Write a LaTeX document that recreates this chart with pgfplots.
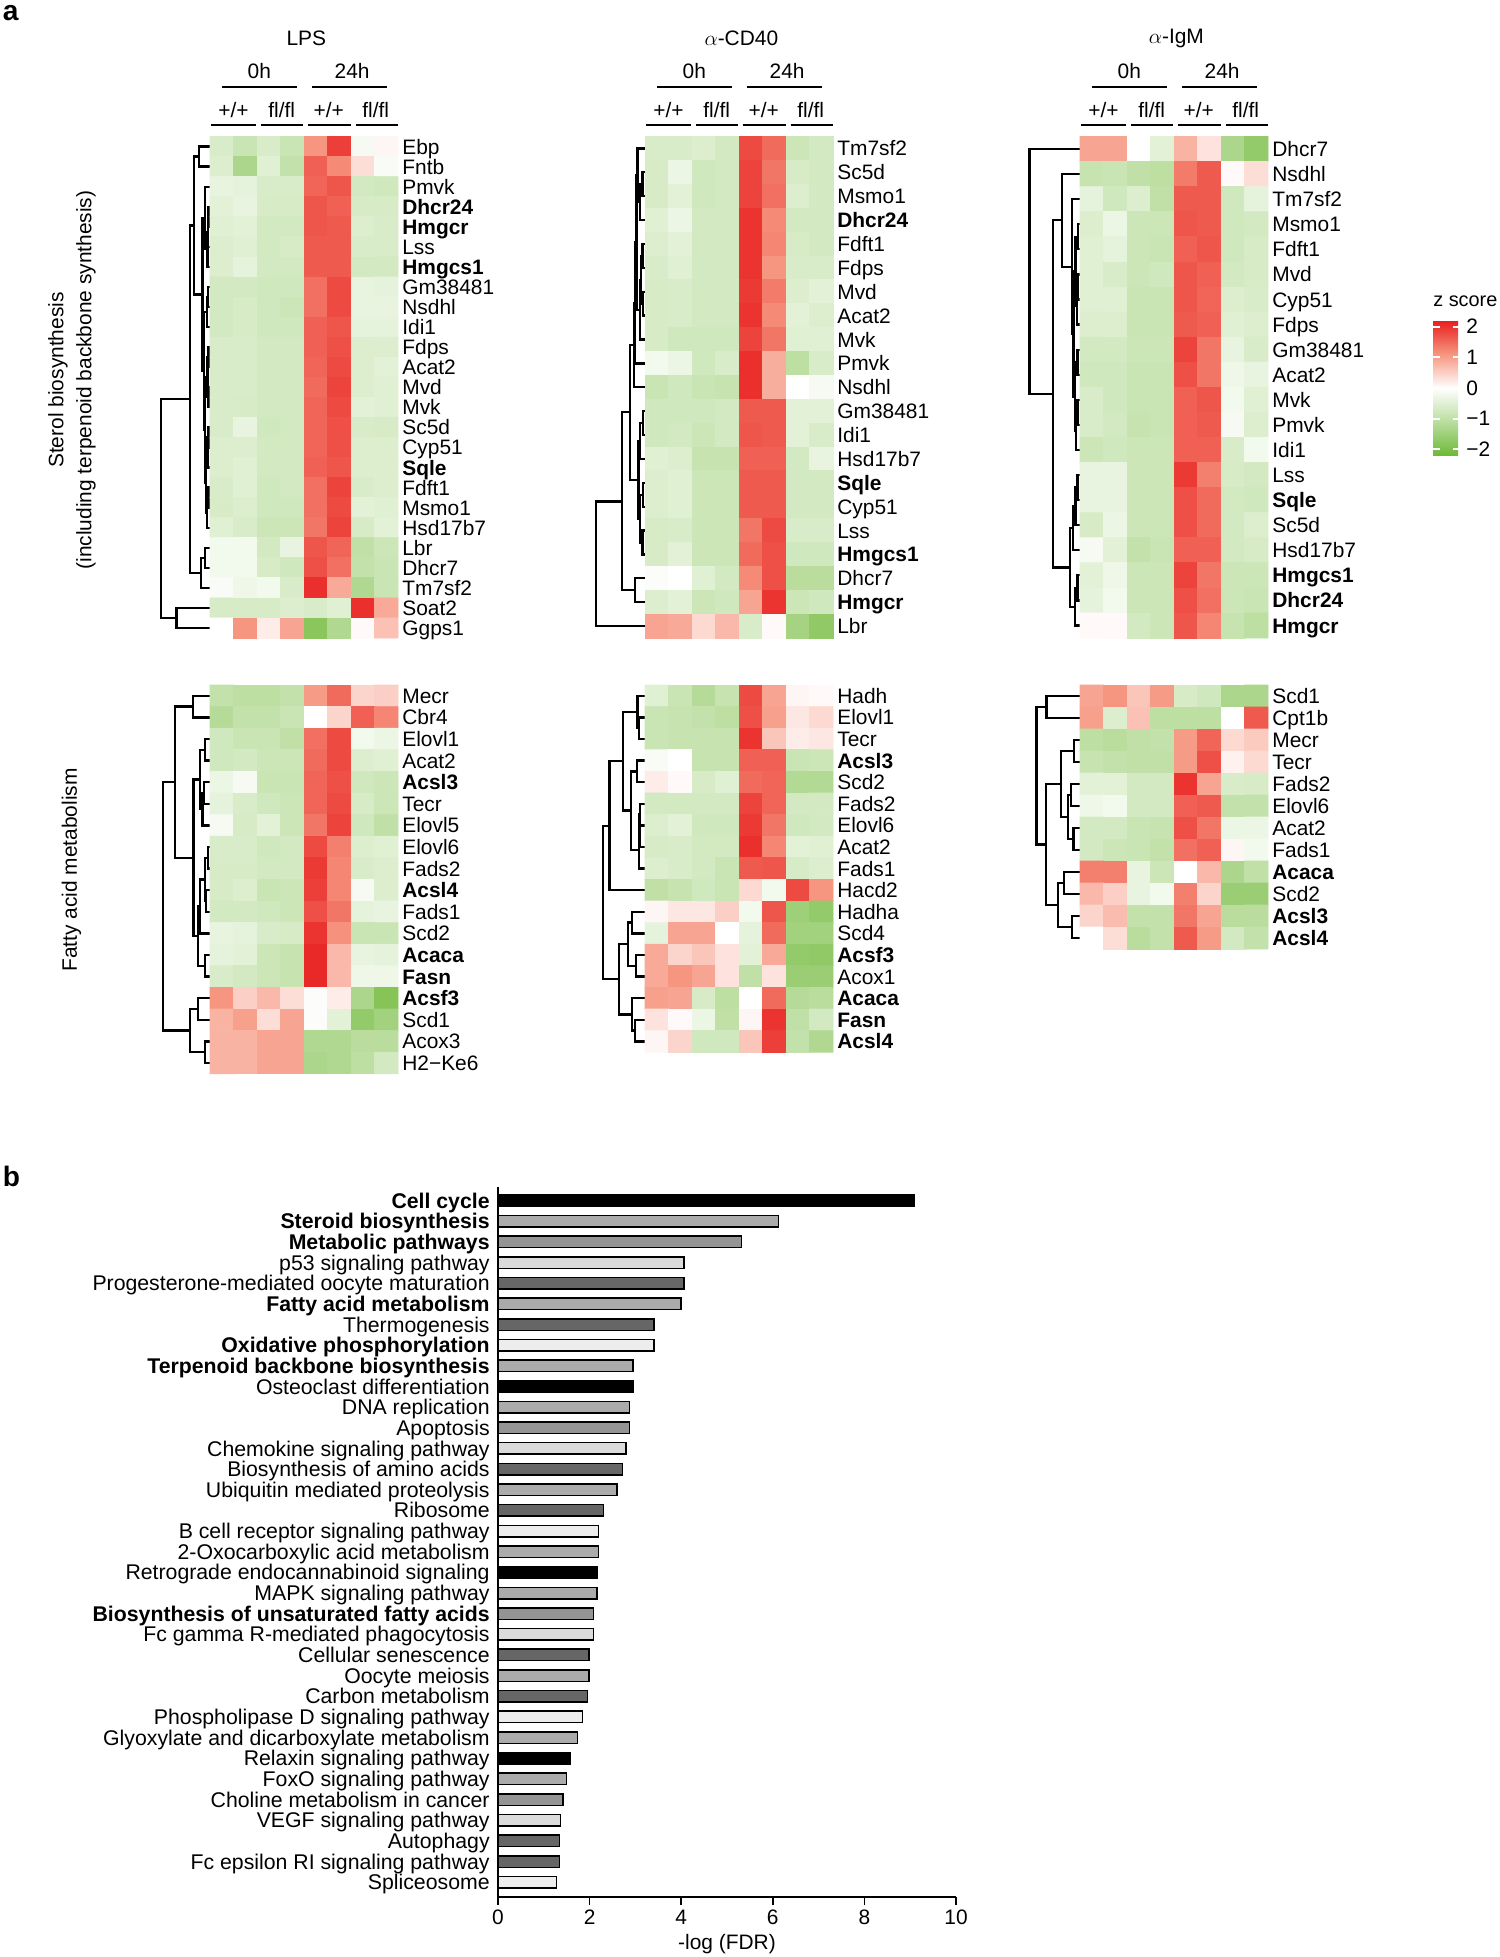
\documentclass[border=0pt]{standalone}
\usepackage{fontspec}
\setmainfont{Liberation Sans}
\usepackage{pgfplots}
\pgfplotsset{compat=1.18}

% colour scale of the z scores
\pgfplotsset{colormap={zs}{rgb255(0cm)=(110,185,55); rgb255(1cm)=(186,221,158); rgb255(2cm)=(255,255,255); rgb255(3cm)=(246,150,128); rgb255(4cm)=(232,30,30)}}

\pgfplotsset{
  hmap/.style={anchor=north west, scale only axis, width=37.6mm,
    xmin=-0.5, xmax=7.5, ymin=-0.5, y dir=reverse, clip=false,
    axis line style={draw=none}, xtick=\empty, major tick length=0pt,
    tick style={draw=none}, yticklabel pos=right,
    yticklabel style={anchor=base west, inner sep=0pt, xshift=0.8mm, yshift=-0.36em},
    colormap name=zs, point meta min=-2.2, point meta max=2.2},
  zcells/.style={matrix plot*, mesh/cols=8, point meta=explicit},
  dendro/.style={sharp plot, black, line width=0.45mm, no marks, fill=none,
    scatter=false, point meta=none, mesh/check=false},
}
\tikzset{hl/.style={black, line width=0.4mm}}

% dendrogram bracket: h child1, y child1, h node, y child2, h child2
\newcommand{\dend}[5]{%
  \pgfmathsetmacro\xa{-0.5-\dw*#1}%
  \pgfmathsetmacro\xn{-0.5-\dw*#3}%
  \pgfmathsetmacro\xb{-0.5-\dw*#5}%
  \edef\tmp{\noexpand\addplot[dendro] coordinates {(\xa,#2) (\xn,#2) (\xn,#4) (\xb,#4)};}\tmp}
\newcommand{\hdr}[1]{%
  \node at ([yshift=19.56mm]axis cs:3.6,-0.5) {#1};
  \node at ([yshift=13.1mm]axis cs:1.6,-0.5) {0h};
  \node at ([yshift=13.1mm]axis cs:5.55,-0.5) {24h};
  \draw[hl] ([yshift=9.9mm]axis cs:0.0,-0.5) -- ([yshift=9.9mm]axis cs:3.2,-0.5);
  \draw[hl] ([yshift=9.9mm]axis cs:3.85,-0.5) -- ([yshift=9.9mm]axis cs:7.05,-0.5);
  \node at ([yshift=5.3mm]axis cs:0.5,-0.5) {+/+};
  \node at ([yshift=5.3mm]axis cs:2.55,-0.5) {fl/fl};
  \node at ([yshift=5.3mm]axis cs:4.55,-0.5) {+/+};
  \node at ([yshift=5.3mm]axis cs:6.55,-0.5) {fl/fl};
  \draw[hl] ([yshift=2.3mm]axis cs:-0.45,-0.5) -- ([yshift=2.3mm]axis cs:1.45,-0.5);
  \draw[hl] ([yshift=2.3mm]axis cs:1.65,-0.5) -- ([yshift=2.3mm]axis cs:3.45,-0.5);
  \draw[hl] ([yshift=2.3mm]axis cs:3.65,-0.5) -- ([yshift=2.3mm]axis cs:5.5,-0.5);
  \draw[hl] ([yshift=2.3mm]axis cs:5.7,-0.5) -- ([yshift=2.3mm]axis cs:7.5,-0.5);
}

\definecolor{gA}{gray}{0.67}
\definecolor{gB}{gray}{0.58}
\definecolor{gC}{gray}{0.86}
\definecolor{gD}{gray}{0.40}
\definecolor{gE}{gray}{0.93}

\begin{document}
\fontsize{11.9}{14}\selectfont
\begin{tikzpicture}
\useasboundingbox (0,0) rectangle (300mm,-391.4mm);

\node[anchor=north west, inner sep=0pt, font=\bfseries\fontsize{16}{18}\selectfont] at (0.5mm,-1mm) {a};
\node[anchor=north west, inner sep=0pt, font=\bfseries\fontsize{16}{18}\selectfont] at (0.5mm,-233.2mm) {b};

\node[rotate=90] at (11.6mm,-76mm) {Sterol biosynthesis};
\node[rotate=90] at (17.2mm,-76mm) {(including terpenoid backbone synthesis)};
\node[rotate=90] at (14.3mm,-174mm) {Fatty acid metabolism};

% ---------- b: pathways ----------
\begin{axis}[at={(99.6mm,-237.4mm)}, anchor=north west, scale only axis,
  width=91.6mm, height=142mm, xmin=0, xmax=10, ymin=-33.72, ymax=0.66,
  axis lines*=left, axis line style={line width=0.3mm},
  tick align=outside, major tick length=1.6mm,
  xtick={0,2,...,10}, xtick style={black, line width=0.3mm},
  /pgf/number format/assume math mode=true,
  xticklabel style={inner sep=0pt, yshift=-1mm},
  ytick={0,-1,...,-33}, ytick style={draw=none},
  yticklabel style={anchor=base east, inner sep=0pt, yshift=-0.36em, font=\fontsize{12.1}{14}\selectfont},
  yticklabels={\textbf{Cell cycle},\textbf{Steroid biosynthesis},\textbf{Metabolic pathways},p53 signaling pathway,Progesterone-mediated oocyte maturation,\textbf{Fatty acid metabolism},Thermogenesis,\textbf{Oxidative phosphorylation},\textbf{Terpenoid backbone biosynthesis},Osteoclast differentiation,DNA replication,Apoptosis,Chemokine signaling pathway,Biosynthesis of amino acids,Ubiquitin mediated proteolysis,Ribosome,B cell receptor signaling pathway,2-Oxocarboxylic acid metabolism,Retrograde endocannabinoid signaling,MAPK signaling pathway,\textbf{Biosynthesis of unsaturated fatty acids},Fc gamma R-mediated phagocytosis,Cellular senescence,Oocyte meiosis,Carbon metabolism,Phospholipase D signaling pathway,Glyoxylate and dicarboxylate metabolism,Relaxin signaling pathway,FoxO signaling pathway,Choline metabolism in cancer,VEGF signaling pathway,Autophagy,Fc epsilon RI signaling pathway,Spliceosome},
  xlabel={-log (FDR)},
  xlabel style={at={(axis description cs:0.5,0)}, anchor=center, yshift=-9.4mm},
  clip=false]
\addplot[xbar, bar width=2.3mm, bar shift=0pt, draw=black, line width=0.3mm, fill=black]
  coordinates {(9.08,0) (2.96,-9) (2.16,-18) (1.57,-27)};
\addplot[xbar, bar width=2.3mm, bar shift=0pt, draw=black, line width=0.3mm, fill=gA]
  coordinates {(6.12,-1) (4.00,-5) (2.95,-8) (2.87,-10) (2.60,-14) (2.19,-17) (2.16,-19) (1.99,-23) (1.74,-26) (1.50,-28)};
\addplot[xbar, bar width=2.3mm, bar shift=0pt, draw=black, line width=0.3mm, fill=gB]
  coordinates {(5.32,-2) (2.87,-11) (2.08,-20) (1.42,-29)};
\addplot[xbar, bar width=2.3mm, bar shift=0pt, draw=black, line width=0.3mm, fill=gC]
  coordinates {(4.06,-3) (2.79,-12) (2.08,-21) (1.36,-30)};
\addplot[xbar, bar width=2.3mm, bar shift=0pt, draw=black, line width=0.3mm, fill=gD]
  coordinates {(4.06,-4) (3.41,-6) (2.72,-13) (2.30,-15) (1.99,-22) (1.95,-24) (1.34,-31) (1.34,-32)};
\addplot[xbar, bar width=2.3mm, bar shift=0pt, draw=black, line width=0.3mm, fill=gE]
  coordinates {(3.41,-7) (2.19,-16) (1.84,-25) (1.28,-33)};
\end{axis}

% ---------- sterol, LPS ----------
% columns: +/+ 0h, +/+ 0h, fl/fl 0h, fl/fl 0h, +/+ 24h, +/+ 24h, fl/fl 24h, fl/fl 24h
\def\dw{2.1}
\begin{axis}[hmap, at={(42mm,-27.3mm)}, height=100.3mm, ymax=24.5,
  ytick={0,...,24},
  yticklabels={Ebp,Fntb,Pmvk,\textbf{Dhcr24},\textbf{Hmgcr},Lss,\textbf{Hmgcs1},Gm38481,Nsdhl,Idi1,Fdps,Acat2,Mvd,Mvk,Sc5d,Cyp51,\textbf{Sqle},Fdft1,Msmo1,Hsd17b7,Lbr,Dhcr7,Tm7sf2,Soat2,Ggps1}]
\dend{0}{0}{0.22}{1}{0}
\dend{0}{3}{0.03}{4}{0}
\dend{0.03}{3.5}{0.04}{5}{0}
\dend{0.04}{4.25}{0.05}{6}{0}
\dend{0}{2}{0.1}{5.125}{0.05}
\dend{0}{7}{0.04}{8}{0}
\dend{0.04}{7.5}{0.06}{9}{0}
\dend{0}{10}{0.03}{11}{0}
\dend{0}{12}{0.03}{13}{0}
\dend{0.03}{10.5}{0.05}{12.5}{0.03}
\dend{0}{14}{0.03}{15}{0}
\dend{0.03}{14.5}{0.05}{16}{0}
\dend{0}{17}{0.03}{18}{0}
\dend{0.03}{17.5}{0.06}{19}{0}
\dend{0.05}{15.25}{0.08}{18.25}{0.06}
\dend{0.05}{11.5}{0.1}{16.75}{0.08}
\dend{0.06}{8.25}{0.12}{14.125}{0.1}
\dend{0.1}{3.5625}{0.15}{11.19}{0.12}
\dend{0.22}{0.5}{0.32}{7.375}{0.15}
\dend{0}{20}{0.1}{21}{0}
\dend{0.1}{20.5}{0.18}{22}{0}
\dend{0.32}{3.94}{0.41}{21.25}{0.18}
\dend{0}{23}{0.68}{24}{0}
\dend{0.41}{12.6}{1}{23.5}{0.68}
\addplot[zcells] coordinates {
(0,0)[-0.6] (1,0)[-0.85] (2,0)[-0.6] (3,0)[-0.85] (4,0)[1.1] (5,0)[1.9] (6,0)[-0.15] (7,0)[0.1]
(0,1)[-0.55] (1,1)[-1.3] (2,1)[-0.5] (3,1)[-0.95] (4,1)[1.6] (5,1)[1.2] (6,1)[0.35] (7,1)[-0.1]
(0,2)[-0.35] (1,2)[-0.4] (2,2)[-0.6] (3,2)[-0.6] (4,2)[1.55] (5,2)[1.7] (6,2)[-0.7] (7,2)[-0.75]
(0,3)[-0.45] (1,3)[-0.35] (2,3)[-0.65] (3,3)[-0.65] (4,3)[1.7] (5,3)[1.6] (6,3)[-0.65] (7,3)[-0.65]
(0,4)[-0.5] (1,4)[-0.45] (2,4)[-0.7] (3,4)[-0.7] (4,4)[1.7] (5,4)[1.65] (6,4)[-0.55] (7,4)[-0.6]
(0,5)[-0.55] (1,5)[-0.5] (2,5)[-0.7] (3,5)[-0.65] (4,5)[1.65] (5,5)[1.65] (6,5)[-0.6] (7,5)[-0.6]
(0,6)[-0.55] (1,6)[-0.4] (2,6)[-0.7] (3,6)[-0.7] (4,6)[1.65] (5,6)[1.65] (6,6)[-0.7] (7,6)[-0.7]
(0,7)[-0.7] (1,7)[-0.7] (2,7)[-0.75] (3,7)[-0.75] (4,7)[1.45] (5,7)[1.8] (6,7)[-0.35] (7,7)[-0.4]
(0,8)[-0.7] (1,8)[-0.65] (2,8)[-0.75] (3,8)[-0.8] (4,8)[1.45] (5,8)[1.8] (6,8)[-0.35] (7,8)[-0.35]
(0,9)[-0.7] (1,9)[-0.65] (2,9)[-0.75] (3,9)[-0.75] (4,9)[1.6] (5,9)[1.7] (6,9)[-0.4] (7,9)[-0.4]
(0,10)[-0.6] (1,10)[-0.6] (2,10)[-0.7] (3,10)[-0.7] (4,10)[1.6] (5,10)[1.75] (6,10)[-0.55] (7,10)[-0.55]
(0,11)[-0.6] (1,11)[-0.6] (2,11)[-0.7] (3,11)[-0.7] (4,11)[1.55] (5,11)[1.8] (6,11)[-0.55] (7,11)[-0.45]
(0,12)[-0.6] (1,12)[-0.6] (2,12)[-0.7] (3,12)[-0.7] (4,12)[1.5] (5,12)[1.85] (6,12)[-0.55] (7,12)[-0.5]
(0,13)[-0.6] (1,13)[-0.65] (2,13)[-0.7] (3,13)[-0.7] (4,13)[1.55] (5,13)[1.8] (6,13)[-0.45] (7,13)[-0.5]
(0,14)[-0.6] (1,14)[-0.35] (2,14)[-0.75] (3,14)[-0.7] (4,14)[1.55] (5,14)[1.75] (6,14)[-0.6] (7,14)[-0.65]
(0,15)[-0.55] (1,15)[-0.55] (2,15)[-0.7] (3,15)[-0.7] (4,15)[1.55] (5,15)[1.75] (6,15)[-0.55] (7,15)[-0.55]
(0,16)[-0.55] (1,16)[-0.5] (2,16)[-0.7] (3,16)[-0.7] (4,16)[1.6] (5,16)[1.7] (6,16)[-0.55] (7,16)[-0.55]
(0,17)[-0.6] (1,17)[-0.5] (2,17)[-0.75] (3,17)[-0.7] (4,17)[1.45] (5,17)[1.85] (6,17)[-0.6] (7,17)[-0.55]
(0,18)[-0.65] (1,18)[-0.55] (2,18)[-0.75] (3,18)[-0.75] (4,18)[1.45] (5,18)[1.8] (6,18)[-0.45] (7,18)[-0.5]
(0,19)[-0.5] (1,19)[-0.6] (2,19)[-0.8] (3,19)[-0.8] (4,19)[1.4] (5,19)[1.85] (6,19)[-0.65] (7,19)[-0.45]
(0,20)[-0.2] (1,20)[-0.2] (2,20)[-0.7] (3,20)[-0.35] (4,20)[1.7] (5,20)[1.55] (6,20)[-1.0] (7,20)[-0.8]
(0,21)[-0.2] (1,21)[-0.2] (2,21)[-0.65] (3,21)[-0.75] (4,21)[1.75] (5,21)[1.45] (6,21)[-0.95] (7,21)[-0.85]
(0,22)[-0.1] (1,22)[-0.25] (2,22)[-0.2] (3,22)[-0.6] (4,22)[2.05] (5,22)[0.9] (6,22)[-1.25] (7,22)[-0.85]
(0,23)[-0.65] (1,23)[-0.65] (2,23)[-0.65] (3,23)[-0.55] (4,23)[-0.6] (5,23)[-0.5] (6,23)[2.05] (7,23)[0.9]
(0,24)[0.0] (1,24)[1.1] (2,24)[0.2] (3,24)[0.95] (4,24)[-1.8] (5,24)[-1.25] (6,24)[0.05] (7,24)[0.65]
};
\hdr{LPS}
\end{axis}

% ---------- sterol, a-CD40 ----------
\def\dw{2.1}
\begin{axis}[hmap, at={(129mm,-27.3mm)}, height=100.3mm, ymax=20.5,
  ytick={0,...,20},
  yticklabels={Tm7sf2,Sc5d,Msmo1,\textbf{Dhcr24},Fdft1,Fdps,Mvd,Acat2,Mvk,Pmvk,Nsdhl,Gm38481,Idi1,Hsd17b7,\textbf{Sqle},Cyp51,Lss,\textbf{Hmgcs1},Dhcr7,\textbf{Hmgcr},Lbr}]
\dend{0}{1}{0.05}{2}{0}
\dend{0.05}{1.5}{0.1}{3}{0}
\dend{0}{0}{0.15}{2.25}{0.1}
\dend{0}{4}{0.05}{5}{0}
\dend{0}{6}{0.04}{7}{0}
\dend{0.05}{4.5}{0.08}{6.5}{0.04}
\dend{0.08}{5.5}{0.1}{8}{0}
\dend{0.15}{1.125}{0.17}{6.75}{0.1}
\dend{0.17}{3.94}{0.2}{9}{0}
\dend{0.2}{6.47}{0.23}{10}{0}
\dend{0}{11}{0.04}{12}{0}
\dend{0.04}{11.5}{0.1}{13}{0}
\dend{0}{14}{0.04}{15}{0}
\dend{0}{16}{0.05}{17}{0}
\dend{0.04}{14.5}{0.1}{16.5}{0.05}
\dend{0.1}{12.25}{0.13}{15.5}{0.1}
\dend{0.23}{8.23}{0.3}{13.875}{0.13}
\dend{0}{18}{0.2}{19}{0}
\dend{0.3}{11.05}{0.46}{18.5}{0.2}
\dend{0.46}{14.78}{1}{20}{0}
\addplot[zcells] coordinates {
(0,0)[-0.6] (1,0)[-0.6] (2,0)[-0.55] (3,0)[-0.7] (4,0)[1.8] (5,0)[1.5] (6,0)[-0.8] (7,0)[-0.7]
(0,1)[-0.65] (1,1)[-0.3] (2,1)[-0.75] (3,1)[-0.7] (4,1)[1.85] (5,1)[1.4] (6,1)[-0.65] (7,1)[-0.7]
(0,2)[-0.65] (1,2)[-0.45] (2,2)[-0.75] (3,2)[-0.7] (4,2)[1.85] (5,2)[1.45] (6,2)[-0.55] (7,2)[-0.7]
(0,3)[-0.5] (1,3)[-0.3] (2,3)[-0.7] (3,3)[-0.7] (4,3)[2.0] (5,3)[1.2] (6,3)[-0.7] (7,3)[-0.7]
(0,4)[-0.55] (1,4)[-0.45] (2,4)[-0.7] (3,4)[-0.7] (4,4)[2.0] (5,4)[1.25] (6,4)[-0.65] (7,4)[-0.7]
(0,5)[-0.6] (1,5)[-0.5] (2,5)[-0.7] (3,5)[-0.7] (4,5)[2.0] (5,5)[1.1] (6,5)[-0.6] (7,5)[-0.6]
(0,6)[-0.65] (1,6)[-0.6] (2,6)[-0.7] (3,6)[-0.7] (4,6)[1.95] (5,6)[1.35] (6,6)[-0.55] (7,6)[-0.45]
(0,7)[-0.65] (1,7)[-0.6] (2,7)[-0.7] (3,7)[-0.7] (4,7)[2.0] (5,7)[1.2] (6,7)[-0.45] (7,7)[-0.55]
(0,8)[-0.65] (1,8)[-0.75] (2,8)[-0.75] (3,8)[-0.75] (4,8)[1.85] (5,8)[1.4] (6,8)[-0.5] (7,8)[-0.5]
(0,9)[-0.2] (1,9)[-0.3] (2,9)[-0.75] (3,9)[-0.6] (4,9)[2.05] (5,9)[0.85] (6,9)[-1.05] (7,9)[-0.6]
(0,10)[-0.85] (1,10)[-0.75] (2,10)[-0.85] (3,10)[-0.9] (4,10)[2.05] (5,10)[0.85] (6,10)[0.0] (7,10)[-0.15]
(0,11)[-0.75] (1,11)[-0.75] (2,11)[-0.75] (3,11)[-0.7] (4,11)[1.65] (5,11)[1.65] (6,11)[-0.45] (7,11)[-0.45]
(0,12)[-0.75] (1,12)[-0.7] (2,12)[-0.8] (3,12)[-0.7] (4,12)[1.7] (5,12)[1.65] (6,12)[-0.45] (7,12)[-0.6]
(0,13)[-0.5] (1,13)[-0.55] (2,13)[-0.9] (3,13)[-0.9] (4,13)[1.6] (5,13)[1.6] (6,13)[-0.7] (7,13)[-0.35]
(0,14)[-0.55] (1,14)[-0.5] (2,14)[-0.8] (3,14)[-0.8] (4,14)[1.65] (5,14)[1.65] (6,14)[-0.7] (7,14)[-0.7]
(0,15)[-0.55] (1,15)[-0.5] (2,15)[-0.8] (3,15)[-0.8] (4,15)[1.65] (5,15)[1.65] (6,15)[-0.7] (7,15)[-0.7]
(0,16)[-0.65] (1,16)[-0.6] (2,16)[-0.8] (3,16)[-0.8] (4,16)[1.4] (5,16)[1.8] (6,16)[-0.6] (7,16)[-0.6]
(0,17)[-0.65] (1,17)[-0.45] (2,17)[-0.8] (3,17)[-0.8] (4,17)[1.5] (5,17)[1.75] (6,17)[-0.75] (7,17)[-0.75]
(0,18)[-0.05] (1,18)[0.0] (2,18)[-0.5] (3,18)[-0.7] (4,18)[1.2] (5,18)[1.75] (6,18)[-1.1] (7,18)[-1.1]
(0,19)[-0.55] (1,19)[-0.45] (2,19)[-0.8] (3,19)[-0.75] (4,19)[0.95] (5,19)[2.0] (6,19)[-0.8] (7,19)[-0.75]
(0,20)[0.95] (1,20)[0.9] (2,20)[0.4] (3,20)[0.75] (4,20)[-0.6] (5,20)[0.05] (6,20)[-1.4] (7,20)[-1.7]
};
\hdr{$\alpha$-CD40}
\end{axis}

% ---------- sterol, a-IgM (with the colour bar) ----------
\def\dw{2.15}
\begin{axis}[hmap, at={(216mm,-27.3mm)}, height=100.3mm, ymax=19.5,
  ytick={0,...,19},
  yticklabels={Dhcr7,Nsdhl,Tm7sf2,Msmo1,Fdft1,Mvd,Cyp51,Fdps,Gm38481,Acat2,Mvk,Pmvk,Idi1,Lss,\textbf{Sqle},Sc5d,Hsd17b7,\textbf{Hmgcs1},\textbf{Dhcr24},\textbf{Hmgcr}},
  colorbar,
  colorbar style={at={(parent axis.north east)}, anchor=north west,
    xshift=30.0mm, yshift=-36.8mm, scale only axis, width=5.4mm, height=27mm,
    ytick={-2,-1,0,1,2}, yticklabels={−2,−1,0,1,2},
    yticklabel pos=right, yticklabel style={anchor=west, inner sep=0pt, xshift=1.2mm},
    axis line style={draw=none}, tick align=inside, ytick pos=both,
    major tick length=1.4mm, tick style={white, line width=0.35mm},
    title={z score}, title style={at={(0,1)}, anchor=south west, inner sep=0pt, yshift=0.6mm, font=\fontsize{11.3}{13}\selectfont}}]
\dend{0}{3}{0.04}{4}{0}
\dend{0}{5}{0.04}{6}{0}
\dend{0.04}{5.5}{0.06}{7}{0}
\dend{0.04}{3.5}{0.09}{6.25}{0.06}
\dend{0}{8}{0.05}{9}{0}
\dend{0}{10}{0.05}{11}{0}
\dend{0.05}{10.5}{0.08}{12}{0}
\dend{0.05}{8.5}{0.1}{11.25}{0.08}
\dend{0.09}{4.875}{0.13}{9.875}{0.1}
\dend{0}{2}{0.16}{7.375}{0.13}
\dend{0}{1}{0.35}{4.69}{0.16}
\dend{0}{13}{0.05}{14}{0}
\dend{0.05}{13.5}{0.09}{15}{0}
\dend{0.09}{14.25}{0.14}{16}{0}
\dend{0}{17}{0.05}{18}{0}
\dend{0.05}{17.5}{0.1}{19}{0}
\dend{0.14}{15.125}{0.2}{18.25}{0.1}
\dend{0.35}{2.84}{0.53}{16.69}{0.2}
\dend{0}{0}{1}{9.77}{0.53}
\addplot[zcells] coordinates {
(0,0)[0.95] (1,0)[0.95] (2,0)[0.0] (3,0)[-0.45] (4,0)[0.8] (5,0)[0.3] (6,0)[-1.3] (7,0)[-1.65]
(0,1)[-0.9] (1,1)[-0.85] (2,1)[-1.0] (3,1)[-1.05] (4,1)[1.35] (5,1)[1.65] (6,1)[0.05] (7,1)[0.35]
(0,2)[-0.4] (1,2)[-0.75] (2,2)[-0.55] (3,2)[-1.0] (4,2)[1.65] (5,2)[1.65] (6,2)[-0.75] (7,2)[-0.4]
(0,3)[-0.55] (1,3)[-0.3] (2,3)[-0.8] (3,3)[-0.8] (4,3)[1.7] (5,3)[1.65] (6,3)[-0.75] (7,3)[-0.7]
(0,4)[-0.5] (1,4)[-0.4] (2,4)[-0.8] (3,4)[-0.85] (4,4)[1.6] (5,4)[1.7] (6,4)[-0.75] (7,4)[-0.65]
(0,5)[-0.5] (1,5)[-0.6] (2,5)[-0.8] (3,5)[-0.75] (4,5)[1.7] (5,5)[1.6] (6,5)[-0.7] (7,5)[-0.65]
(0,6)[-0.5] (1,6)[-0.5] (2,6)[-0.85] (3,6)[-0.85] (4,6)[1.7] (5,6)[1.55] (6,6)[-0.55] (7,6)[-0.6]
(0,7)[-0.55] (1,7)[-0.55] (2,7)[-0.85] (3,7)[-0.85] (4,7)[1.65] (5,7)[1.6] (6,7)[-0.5] (7,7)[-0.55]
(0,8)[-0.7] (1,8)[-0.7] (2,8)[-0.8] (3,8)[-0.8] (4,8)[1.85] (5,8)[1.4] (6,8)[-0.35] (7,8)[-0.6]
(0,9)[-0.75] (1,9)[-0.75] (2,9)[-0.85] (3,9)[-0.85] (4,9)[1.75] (5,9)[1.4] (6,9)[-0.25] (7,9)[-0.35]
(0,10)[-0.6] (1,10)[-0.75] (2,10)[-0.85] (3,10)[-0.85] (4,10)[1.6] (5,10)[1.7] (6,10)[-0.2] (7,10)[-0.5]
(0,11)[-0.6] (1,11)[-0.7] (2,11)[-0.9] (3,11)[-0.85] (4,11)[1.6] (5,11)[1.65] (6,11)[-0.15] (7,11)[-0.55]
(0,12)[-0.8] (1,12)[-0.75] (2,12)[-0.8] (3,12)[-0.8] (4,12)[1.6] (5,12)[1.6] (6,12)[-0.6] (7,12)[-0.2]
(0,13)[-0.35] (1,13)[-0.35] (2,13)[-0.8] (3,13)[-0.8] (4,13)[1.95] (5,13)[1.3] (6,13)[-0.65] (7,13)[-0.7]
(0,14)[-0.35] (1,14)[-0.35] (2,14)[-0.8] (3,14)[-0.8] (4,14)[1.75] (5,14)[1.5] (6,14)[-0.7] (7,14)[-0.75]
(0,15)[-0.65] (1,15)[-0.3] (2,15)[-0.8] (3,15)[-0.8] (4,15)[1.75] (5,15)[1.5] (6,15)[-0.7] (7,15)[-0.55]
(0,16)[-0.15] (1,16)[-0.45] (2,16)[-0.95] (3,16)[-0.85] (4,16)[1.6] (5,16)[1.6] (6,16)[-0.7] (7,16)[-0.65]
(0,17)[-0.45] (1,17)[-0.25] (2,17)[-0.8] (3,17)[-0.8] (4,17)[1.85] (5,17)[1.4] (6,17)[-0.8] (7,17)[-0.8]
(0,18)[-0.4] (1,18)[-0.2] (2,18)[-0.8] (3,18)[-0.8] (4,18)[1.75] (5,18)[1.45] (6,18)[-0.8] (7,18)[-0.85]
(0,19)[0.05] (1,19)[0.05] (2,19)[-0.7] (3,19)[-0.8] (4,19)[1.7] (5,19)[1.25] (6,19)[-0.9] (7,19)[-1.05]
};
\hdr{$\alpha$-IgM}
\end{axis}

% ---------- fatty acid, LPS ----------
\def\dw{2.0}
\begin{axis}[hmap, at={(42mm,-137mm)}, height=77.76mm, ymax=17.5,
  ytick={0,...,17},
  yticklabels={Mecr,Cbr4,Elovl1,Acat2,\textbf{Acsl3},Tecr,Elovl5,Elovl6,Fads2,\textbf{Acsl4},Fads1,Scd2,\textbf{Acaca},\textbf{Fasn},\textbf{Acsf3},Scd1,Acox3,H2−Ke6}]
\dend{0}{0}{0.36}{1}{0}
\dend{0}{2}{0.11}{3}{0}
\dend{0}{4}{0.13}{5}{0}
\dend{0.13}{4.5}{0.16}{6}{0}
\dend{0.11}{2.5}{0.22}{5.25}{0.16}
\dend{0}{7}{0.05}{8}{0}
\dend{0}{9}{0.08}{10}{0}
\dend{0.05}{7.5}{0.1}{9.5}{0.08}
\dend{0.1}{8.5}{0.22}{11}{0}
\dend{0}{12}{0.1}{13}{0}
\dend{0.22}{9.75}{0.25}{12.5}{0.1}
\dend{0.22}{3.875}{0.35}{11.125}{0.25}
\dend{0.36}{0.5}{0.74}{7.5}{0.35}
\dend{0}{14}{0.25}{15}{0}
\dend{0}{16}{0.1}{17}{0}
\dend{0.25}{14.5}{0.42}{16.5}{0.1}
\dend{0.74}{4}{1}{15.5}{0.42}
\addplot[zcells] coordinates {
(0,0)[-0.95] (1,0)[-1.05] (2,0)[-1.05] (3,0)[-0.95] (4,0)[1.05] (5,0)[1.5] (6,0)[0.45] (7,0)[0.5]
(0,1)[-1.15] (1,1)[-0.95] (2,1)[-0.95] (3,1)[-0.85] (4,1)[0.0] (5,1)[0.45] (6,1)[1.6] (7,1)[1.25]
(0,2)[-0.75] (1,2)[-0.85] (2,2)[-0.85] (3,2)[-1.0] (4,2)[1.45] (5,2)[1.8] (6,2)[-0.2] (7,2)[-0.3]
(0,3)[-0.75] (1,3)[-0.7] (2,3)[-0.8] (3,3)[-0.8] (4,3)[1.5] (5,3)[1.8] (6,3)[-0.55] (7,3)[-0.5]
(0,4)[-0.3] (1,4)[-0.15] (2,4)[-0.85] (3,4)[-0.85] (4,4)[1.55] (5,4)[1.75] (6,4)[-0.75] (7,4)[-0.8]
(0,5)[-0.4] (1,5)[-0.6] (2,5)[-0.75] (3,5)[-0.8] (4,5)[1.55] (5,5)[1.8] (6,5)[-0.65] (7,5)[-0.8]
(0,6)[-0.15] (1,6)[-0.65] (2,6)[-0.45] (3,6)[-0.8] (4,6)[1.4] (5,6)[1.85] (6,6)[-0.75] (7,6)[-1.0]
(0,7)[-0.6] (1,7)[-0.6] (2,7)[-0.75] (3,7)[-0.7] (4,7)[1.8] (5,7)[1.3] (6,7)[-0.55] (7,7)[-0.5]
(0,8)[-0.65] (1,8)[-0.65] (2,8)[-0.7] (3,8)[-0.7] (4,8)[1.95] (5,8)[1.25] (6,8)[-0.6] (7,8)[-0.55]
(0,9)[-0.65] (1,9)[-0.55] (2,9)[-0.85] (3,9)[-0.8] (4,9)[1.9] (5,9)[1.25] (6,9)[-0.15] (7,9)[-0.55]
(0,10)[-0.7] (1,10)[-0.7] (2,10)[-0.75] (3,10)[-0.8] (4,10)[1.75] (5,10)[1.4] (6,10)[-0.4] (7,10)[-0.35]
(0,11)[-0.35] (1,11)[-0.4] (2,11)[-0.6] (3,11)[-0.65] (4,11)[2.0] (5,11)[1.15] (6,11)[-0.85] (7,11)[-0.85]
(0,12)[-0.4] (1,12)[-0.45] (2,12)[-0.8] (3,12)[-0.9] (4,12)[2.1] (5,12)[0.75] (6,12)[-0.35] (7,12)[-0.4]
(0,13)[-0.6] (1,13)[-0.7] (2,13)[-0.8] (3,13)[-0.9] (4,13)[2.1] (5,13)[0.75] (6,13)[-0.25] (7,13)[-0.25]
(0,14)[1.1] (1,14)[0.5] (2,14)[0.75] (3,14)[0.35] (4,14)[-0.05] (5,14)[0.2] (6,14)[-1.3] (7,14)[-1.85]
(0,15)[0.8] (1,15)[1.0] (2,15)[0.35] (3,15)[0.95] (4,15)[-0.05] (5,15)[-0.45] (6,15)[-1.65] (7,15)[-1.45]
(0,16)[0.8] (1,16)[0.8] (2,16)[0.95] (3,16)[0.95] (4,16)[-1.25] (5,16)[-1.25] (6,16)[-1.1] (7,16)[-1.1]
(0,17)[0.8] (1,17)[0.8] (2,17)[0.95] (3,17)[0.95] (4,17)[-1.3] (5,17)[-1.25] (6,17)[-1.05] (7,17)[-0.7]
};
\end{axis}

% ---------- fatty acid, a-CD40 ----------
\def\dw{1.8}
\begin{axis}[hmap, at={(129mm,-137mm)}, height=73.44mm, ymax=16.5,
  ytick={0,...,16},
  yticklabels={Hadh,Elovl1,Tecr,\textbf{Acsl3},Scd2,Fads2,Elovl6,Acat2,Fads1,Hacd2,Hadha,Scd4,\textbf{Acsf3},Acox1,\textbf{Acaca},\textbf{Fasn},\textbf{Acsl4}}]
\dend{0}{1}{0.14}{2}{0}
\dend{0}{0}{0.18}{1.5}{0.14}
\dend{0}{3}{0.19}{4}{0}
\dend{0}{5}{0.11}{6}{0}
\dend{0.11}{5.5}{0.13}{7}{0}
\dend{0.13}{6.25}{0.15}{8}{0}
\dend{0.19}{3.5}{0.33}{7.125}{0.15}
\dend{0.18}{0.75}{0.52}{5.31}{0.33}
\dend{0.52}{3.03}{0.84}{9}{0}
\dend{0}{10}{0.31}{11}{0}
\dend{0}{12}{0.21}{13}{0}
\dend{0.31}{10.5}{0.4}{12.5}{0.21}
\dend{0}{15}{0.24}{16}{0}
\dend{0}{14}{0.31}{15.5}{0.24}
\dend{0.4}{11.5}{0.61}{14.75}{0.31}
\dend{0.84}{6.02}{1}{13.125}{0.61}
\addplot[zcells] coordinates {
(0,0)[-0.5] (1,0)[-0.85] (2,0)[-1.15] (3,0)[-0.9] (4,0)[1.8] (5,0)[0.95] (6,0)[0.1] (7,0)[0.05]
(0,1)[-0.85] (1,1)[-0.9] (2,1)[-0.95] (3,1)[-1.05] (4,1)[1.75] (5,1)[1.0] (6,1)[0.25] (7,1)[0.4]
(0,2)[-0.85] (1,2)[-0.9] (2,2)[-0.9] (3,2)[-0.9] (4,2)[2.0] (5,2)[0.6] (6,2)[0.2] (7,2)[0.25]
(0,3)[-0.1] (1,3)[0.0] (2,3)[-0.9] (3,3)[-0.9] (4,3)[1.6] (5,3)[1.6] (6,3)[-0.85] (7,3)[-0.8]
(0,4)[0.2] (1,4)[0.05] (2,4)[-0.65] (3,4)[-0.5] (4,4)[1.5] (5,4)[1.55] (6,4)[-1.2] (7,4)[-1.2]
(0,5)[-0.7] (1,5)[-0.7] (2,5)[-0.7] (3,5)[-0.7] (4,5)[1.85] (5,5)[1.55] (6,5)[-0.7] (7,5)[-0.7]
(0,6)[-0.55] (1,6)[-0.45] (2,6)[-0.75] (3,6)[-0.75] (4,6)[1.95] (5,6)[1.4] (6,6)[-0.75] (7,6)[-0.7]
(0,7)[-0.65] (1,7)[-0.6] (2,7)[-0.7] (3,7)[-0.7] (4,7)[2.05] (5,7)[1.25] (6,7)[-0.45] (7,7)[-0.5]
(0,8)[-0.55] (1,8)[-0.6] (2,8)[-0.7] (3,8)[-0.85] (4,8)[1.65] (5,8)[1.7] (6,8)[-0.65] (7,8)[-0.55]
(0,9)[-1.0] (1,9)[-0.9] (2,9)[-0.75] (3,9)[-0.85] (4,9)[0.4] (5,9)[-0.2] (6,9)[1.8] (7,9)[1.1]
(0,10)[0.1] (1,10)[0.25] (2,10)[0.25] (3,10)[0.5] (4,10)[-0.2] (5,10)[1.7] (6,10)[-1.5] (7,10)[-1.65]
(0,11)[-0.4] (1,11)[0.95] (2,11)[0.95] (3,11)[0.0] (4,11)[-0.4] (5,11)[1.5] (6,11)[-1.45] (7,11)[-1.45]
(0,12)[0.9] (1,12)[0.45] (2,12)[0.6] (3,12)[0.3] (4,12)[-0.45] (5,12)[0.9] (6,12)[-1.65] (7,12)[-1.7]
(0,13)[0.9] (1,13)[1.1] (2,13)[0.95] (3,13)[0.3] (4,13)[-1.0] (5,13)[0.3] (6,13)[-1.55] (7,13)[-1.55]
(0,14)[1.0] (1,14)[0.95] (2,14)[-0.65] (3,14)[-1.05] (4,14)[0.0] (5,14)[1.5] (6,14)[-1.15] (7,14)[-1.1]
(0,15)[0.3] (1,15)[0.05] (2,15)[-0.3] (3,15)[-1.0] (4,15)[0.1] (5,15)[2.0] (6,15)[-1.0] (7,15)[-0.7]
(0,16)[0.1] (1,16)[0.45] (2,16)[-0.75] (3,16)[-0.75] (4,16)[0.6] (5,16)[1.9] (6,16)[-0.95] (7,16)[-1.25]
};
\end{axis}

% ---------- fatty acid, a-IgM ----------
\def\dw{1.85}
\begin{axis}[hmap, at={(216mm,-137mm)}, height=52.8mm, ymax=11.5,
  ytick={0,...,11},
  yticklabels={Scd1,Cpt1b,Mecr,Tecr,Fads2,Elovl6,Acat2,Fads1,\textbf{Acaca},Scd2,\textbf{Acsl3},\textbf{Acsl4}}]
\dend{0}{0}{0.77}{1}{0}
\dend{0}{2}{0.13}{3}{0}
\dend{0}{4}{0.21}{5}{0}
\dend{0}{6}{0.15}{7}{0}
\dend{0.21}{4.5}{0.27}{6.5}{0.15}
\dend{0.13}{2.5}{0.43}{5.5}{0.27}
\dend{0}{8}{0.36}{9}{0}
\dend{0}{10}{0.19}{11}{0}
\dend{0.36}{8.5}{0.5}{10.5}{0.19}
\dend{0.43}{4}{0.79}{9.5}{0.5}
\dend{0.77}{0.5}{1}{6.75}{0.79}
\addplot[zcells] coordinates {
(0,0)[0.95] (1,0)[1.1] (2,0)[0.6] (3,0)[1.05] (4,0)[-0.65] (5,0)[-0.75] (6,0)[-1.3] (7,0)[-1.3]
(0,1)[1.0] (1,1)[-0.55] (2,1)[0.65] (3,1)[-1.05] (4,1)[-1.05] (5,1)[-1.05] (6,1)[0.0] (7,1)[1.65]
(0,2)[-1.05] (1,2)[-1.1] (2,2)[-1.0] (3,2)[-0.95] (4,2)[1.05] (5,2)[1.55] (6,2)[0.4] (7,2)[0.55]
(0,3)[-0.9] (1,3)[-0.95] (2,3)[-1.0] (3,3)[-1.0] (4,3)[1.05] (5,3)[1.75] (6,3)[0.15] (7,3)[0.4]
(0,4)[-0.45] (1,4)[-0.45] (2,4)[-0.7] (3,4)[-0.7] (4,4)[2.0] (5,4)[0.95] (6,4)[-0.6] (7,4)[-0.65]
(0,5)[-0.25] (1,5)[-0.2] (2,5)[-0.7] (3,5)[-0.7] (4,5)[1.6] (5,5)[1.65] (6,5)[-0.95] (7,5)[-0.95]
(0,6)[-0.7] (1,6)[-0.7] (2,6)[-0.85] (3,6)[-0.9] (4,6)[1.75] (5,6)[1.4] (6,6)[-0.3] (7,6)[-0.3]
(0,7)[-0.7] (1,7)[-0.8] (2,7)[-0.85] (3,7)[-0.95] (4,7)[1.45] (5,7)[1.6] (6,7)[0.1] (7,7)[-0.2]
(0,8)[1.3] (1,8)[1.3] (2,8)[-0.35] (3,8)[-0.8] (4,8)[0.0] (5,8)[0.75] (6,8)[-1.3] (7,8)[-1.0]
(0,9)[0.75] (1,9)[0.5] (2,9)[-0.35] (3,9)[-0.2] (4,9)[1.3] (5,9)[0.45] (6,9)[-1.55] (7,9)[-1.55]
(0,10)[0.45] (1,10)[0.7] (2,10)[-0.95] (3,10)[-0.95] (4,10)[1.4] (5,10)[0.95] (6,10)[-1.1] (7,10)[-1.1]
(0,11)[0.0] (1,11)[0.35] (2,11)[-1.1] (3,11)[-0.95] (4,11)[1.65] (5,11)[1.05] (6,11)[-0.7] (7,11)[-0.95]
};
\end{axis}
\end{tikzpicture}
\end{document}
